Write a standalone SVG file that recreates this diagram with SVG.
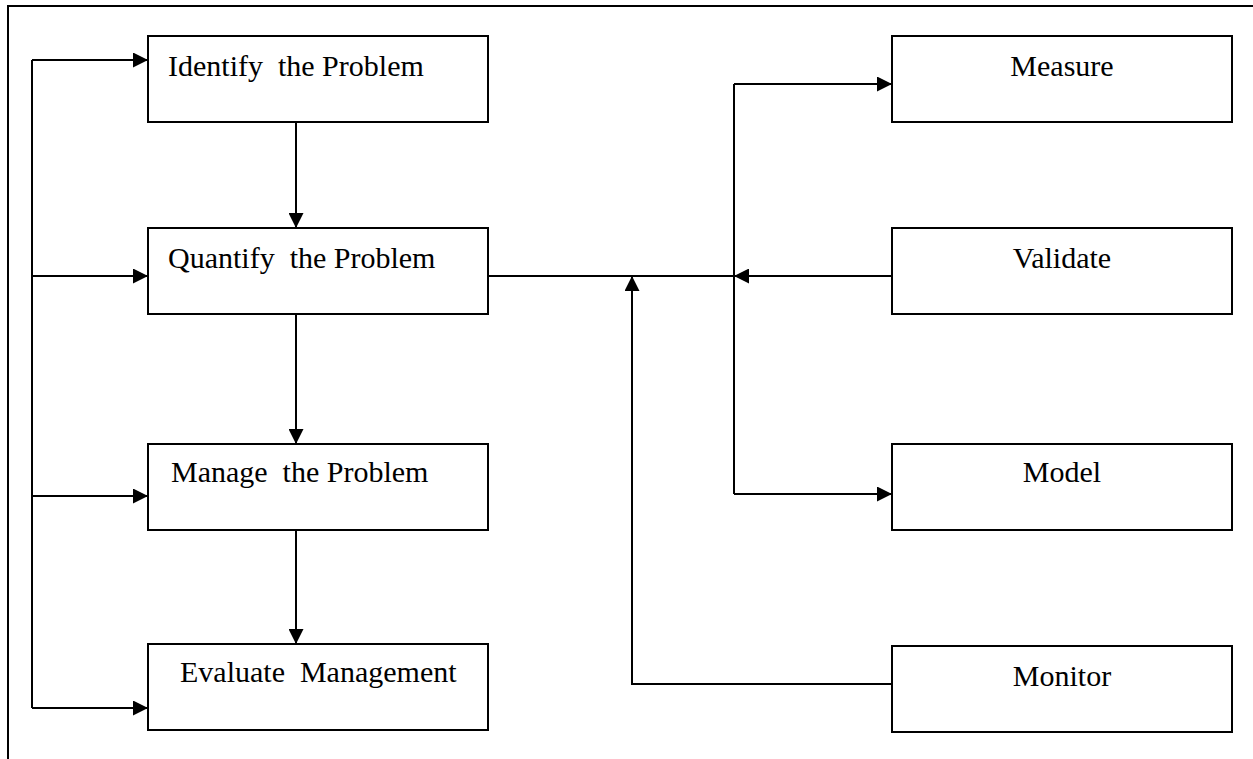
<svg xmlns="http://www.w3.org/2000/svg" width="1253" height="759" viewBox="0 0 1253 759">
<defs>
<style>
.box{fill:#fff;stroke:#000;stroke-width:2}
.lbl{font-family:"Liberation Serif","Times New Roman",serif;font-size:30px;fill:#000;white-space:pre}
.mid{text-anchor:middle}
.c{fill:none;stroke:#000;stroke-width:2}
</style>
<marker id="arr" markerUnits="userSpaceOnUse" markerWidth="15" markerHeight="15" refX="15" refY="7.5" orient="auto">
<path d="M0,0 L15,7.5 L0,15 Z" fill="#000"/>
</marker>
</defs>
<rect width="1253" height="759" fill="#fff"/>
<g id="frame">
<path class="c" d="M8,759 V6 H1253"/>
</g>
<g id="connectors">
<path class="c" d="M32,60 V708"/>
<path class="c" d="M32,60 H148" marker-end="url(#arr)"/>
<path class="c" d="M32,276 H148" marker-end="url(#arr)"/>
<path class="c" d="M32,496 H148" marker-end="url(#arr)"/>
<path class="c" d="M32,708 H148" marker-end="url(#arr)"/>
<path class="c" d="M296,122 V228" marker-end="url(#arr)"/>
<path class="c" d="M296,314 V444" marker-end="url(#arr)"/>
<path class="c" d="M296,530 V644" marker-end="url(#arr)"/>
<path class="c" d="M488,276 H734"/>
<path class="c" d="M734,84 V494"/>
<path class="c" d="M734,84 H892" marker-end="url(#arr)"/>
<path class="c" d="M734,494 H892" marker-end="url(#arr)"/>
<path class="c" d="M892,276 H734" marker-end="url(#arr)"/>
<path class="c" d="M892,684 H632 V276" marker-end="url(#arr)"/>
</g>
<g id="identify">
<rect class="box" x="148" y="36" width="340" height="86"/>
<text class="lbl" x="168" y="76" xml:space="preserve">Identify  the Problem</text>
</g>
<g id="quantify">
<rect class="box" x="148" y="228" width="340" height="86"/>
<text class="lbl" x="168" y="268" xml:space="preserve">Quantify  the Problem</text>
</g>
<g id="manage">
<rect class="box" x="148" y="444" width="340" height="86"/>
<text class="lbl" x="171" y="482" xml:space="preserve">Manage  the Problem</text>
</g>
<g id="evaluate">
<rect class="box" x="148" y="644" width="340" height="86"/>
<text class="lbl" x="180" y="682" xml:space="preserve">Evaluate  Management</text>
</g>
<g id="measure">
<rect class="box" x="892" y="36" width="340" height="86"/>
<text class="lbl mid" x="1062" y="76">Measure</text>
</g>
<g id="validate">
<rect class="box" x="892" y="228" width="340" height="86"/>
<text class="lbl mid" x="1062" y="268">Validate</text>
</g>
<g id="model">
<rect class="box" x="892" y="444" width="340" height="86"/>
<text class="lbl mid" x="1062" y="482">Model</text>
</g>
<g id="monitor">
<rect class="box" x="892" y="646" width="340" height="86"/>
<text class="lbl mid" x="1062" y="686">Monitor</text>
</g>
</svg>
